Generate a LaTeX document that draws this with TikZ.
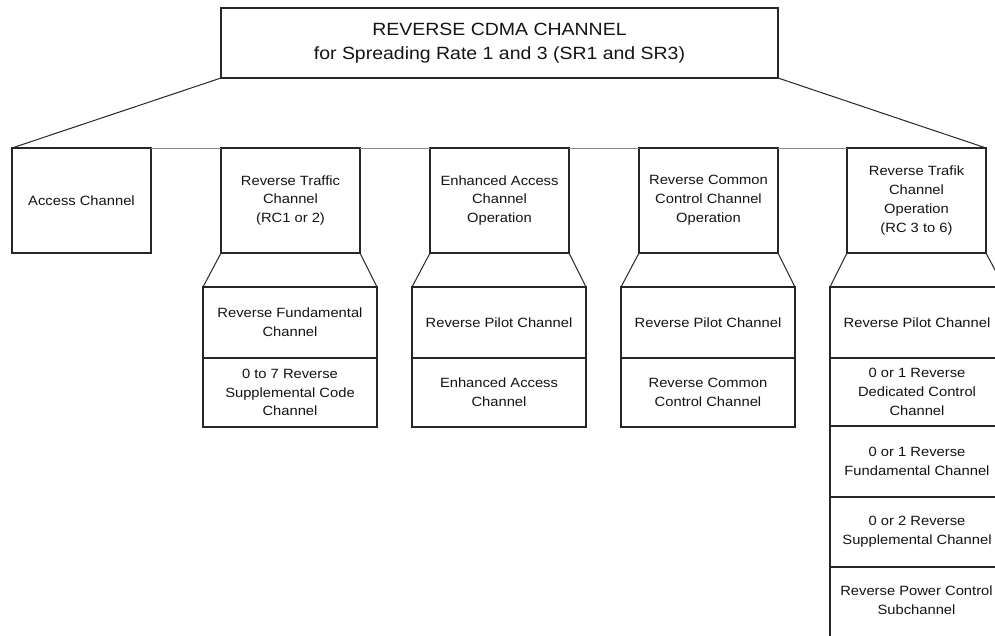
\documentclass[tikz,border=0pt]{standalone}
\usepackage{fontspec}
\setmainfont{Liberation Sans}[FakeStretch=1.1]
\begin{document}
\begin{tikzpicture}[x=1pt,y=-1pt,
  every node/.style={inner sep=0pt,outer sep=0pt,align=center,text=black!92},
  smallfont/.style={font=\fontsize{13.4}{18.8}\selectfont},
  boxline/.style={draw=black!85,line width=1.2pt},
  topbox/.style={boxline,rectangle,minimum width=557pt,minimum height=70pt,font=\fontsize{17.7}{24}\selectfont},
  lonebox/.style={boxline,rectangle,minimum width=139pt,minimum height=105pt,smallfont},
  subbox/.style={boxline,rectangle,minimum width=174pt,smallfont},
  link/.style={draw=black!85,line width=1pt},
  rail/.style={draw=black!45,line width=1pt}
]
\useasboundingbox (0,0) rectangle (995,635);
\clip (0,0) rectangle (995,635);
\fill[white] (0,0) rectangle (995,635);

% top
\node[topbox] (top) at (499.5,43) {REVERSE CDMA CHANNEL\\for Spreading Rate 1 and 3 (SR1 and SR3)};

% level 1 boxes
\node[lonebox] (c1) at (81.5,200.5) {Access Channel};
\node[lonebox] (c2) at (290.5,200.5) {Reverse Traffic\\Channel\\(RC1 or 2)};
\node[lonebox] (c3) at (499.5,200.5) {Enhanced Access\\Channel\\Operation};
\node[lonebox] (c4) at (708.5,200.5) {Reverse Common\\Control Channel\\Operation};
\node[lonebox] (c5) at (916.5,200.5) {Reverse Trafik\\Channel\\Operation\\(RC 3 to 6)};

% rail and fan
\draw[rail] (c1.north west) -- (c5.north east);
\draw[link] (top.south west) -- (c1.north west);
\draw[link] (top.south east) -- (c5.north east);
\foreach \c in {c1,c2,c3,c4,c5}{\draw[boxline] (\c.north west) -- (\c.north east);}

% column 2
\node[subbox,minimum height=71pt] (c2a) at (290,322.5) {Reverse Fundamental\\Channel};
\node[subbox,minimum height=69pt] (c2b) at (290,392.5) {0 to 7 Reverse\\Supplemental Code\\Channel};
% column 3
\node[subbox,minimum height=71pt] (c3a) at (499,322.5) {Reverse Pilot Channel};
\node[subbox,minimum height=69pt] (c3b) at (499,392.5) {Enhanced Access\\Channel};
% column 4
\node[subbox,minimum height=71pt] (c4a) at (708,322.5) {Reverse Pilot Channel};
\node[subbox,minimum height=69pt] (c4b) at (708,392.5) {Reverse Common\\Control Channel};
% column 5
\node[subbox,minimum height=71pt] (c5a) at (917,322.5) {Reverse Pilot Channel};
\node[subbox,minimum height=68pt] (c5b) at (917,392) {0 or 1 Reverse\\Dedicated Control\\Channel};
\node[subbox,minimum height=71pt] (c5c) at (917,461.5) {0 or 1 Reverse\\Fundamental Channel};
\node[subbox,minimum height=70pt] (c5d) at (917,532) {0 or 2 Reverse\\Supplemental Channel};
\node[subbox,minimum height=76pt] (c5e) at (917,605) {};
\node[smallfont] (c5t) at (916.5,600) {Reverse Power Control\\Subchannel};

% trapezoid connectors
\foreach \c in {c2,c3,c4,c5}{
  \draw[link] (\c.south west) -- (\c a.north west);
  \draw[link] (\c.south east) -- (\c a.north east);
}
\end{tikzpicture}
\end{document}
